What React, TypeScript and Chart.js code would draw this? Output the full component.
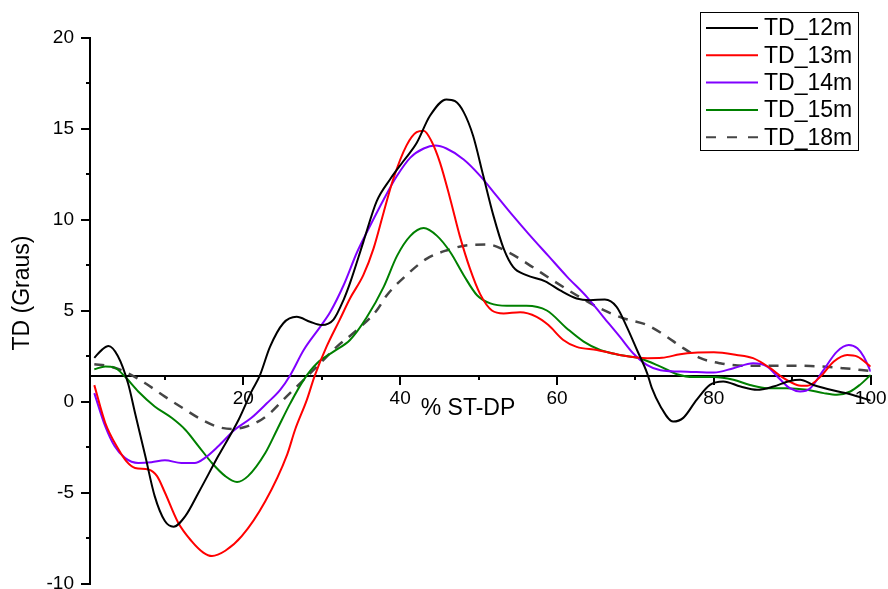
import React, { useEffect, useRef } from 'react';
import { Chart, registerables } from 'chart.js';

Chart.register(...registerables);

const FONT = "'Liberation Sans', Arial, Helvetica, sans-serif";

const SERIES_NAMES = ['TD_12m', 'TD_13m', 'TD_14m', 'TD_15m', 'TD_18m'];
const SERIES_COLORS = ['#000000', '#ff0000', '#8000ff', '#008000', '#454545'];

const X_TITLE = '% ST-DP';
const Y_TITLE = 'TD (Graus)';

const X_MIN = 0.45;
const X_MAX = 100;
const Y_MIN = -10;
const Y_MAX = 20;
const X_AXIS_CROSS_Y = 1.42;

const X_MAJOR_TICKS = [20, 40, 60, 80, 100];
const X_MINOR_TICKS = [10, 30, 50, 70, 90];
const Y_MAJOR_TICKS = [-10, -5, 0, 5, 10, 15, 20];
const Y_MINOR_TICKS = [-7.5, -2.5, 2.5, 7.5, 12.5, 17.5];

const TD12_X = [1, 2, 2.8, 4, 5.3, 6.2, 7.5, 8.7, 10, 11.1, 12.6, 14.3, 16.8, 19.4, 21.1, 22.1, 23.4, 25.1, 26.8, 28.5, 30, 31.5, 32.8, 33.6, 35.3, 37, 38.7, 40.4, 42.1, 43.8, 45.9, 47, 48.1, 49.3, 50.6, 51.9, 53.2, 54.4, 56.1, 58.5, 60.4, 62.5, 64.2, 66.1, 67.6, 68.9, 70.2, 71.5, 72.1, 73.2, 74.8, 76.1, 77.8, 79.5, 81.2, 83.4, 85.5, 87.6, 89.7, 91, 92.7, 95.3, 97.4, 100];
const TD12_Y = [2.4, 2.85, 3.05, 2.5, 1.0, -0.64, -3.0, -5.2, -6.57, -6.88, -6.3, -5.0, -3.0, -1.0, 0.6, 1.42, 3.0, 4.3, 4.65, 4.38, 4.2, 4.5, 5.6, 6.5, 8.76, 11.0, 12.2, 13.2, 14.2, 15.7, 16.6, 16.5, 15.9, 14.6, 12.4, 10.2, 8.4, 7.4, 6.94, 6.6, 6.1, 5.66, 5.57, 5.6, 5.2, 4.1, 2.83, 1.55, 0.73, -0.27, -1.1, -0.9, 0.09, 0.91, 1.1, 0.82, 0.64, 0.82, 1.13, 1.19, 0.91, 0.6, 0.4, 0.05];

const TD13_X = [1, 2.4, 4.1, 5.1, 6.2, 7.9, 9, 10, 11.7, 13.4, 14.9, 16, 17.7, 19.8, 22.8, 25.6, 26.6, 28.1, 29.1, 30.6, 32.3, 33.6, 35.3, 36.6, 37.9, 39.1, 40.8, 42.1, 43, 44, 45.1, 46.4, 47.6, 48.9, 50.2, 51.7, 53.2, 55.3, 57.4, 58.9, 60.8, 62.5, 65.1, 68, 71.5, 73.4, 75.7, 77.5, 80, 82.9, 85, 87.2, 88.9, 90.6, 91.9, 93.6, 95.3, 97, 98.3, 100];
const TD13_Y = [0.9, -1.18, -2.64, -3.29, -3.65, -3.74, -4.1, -5.0, -6.66, -7.67, -8.3, -8.49, -8.2, -7.4, -5.48, -2.9, -1.55, 0.09, 1.41, 3.0, 4.5, 5.66, 6.94, 8.4, 10.4, 12.2, 14.06, 14.8, 14.88, 14.3, 13.1, 11.1, 9.1, 7.3, 5.9, 5.0, 4.84, 4.9, 4.65, 4.2, 3.38, 3.0, 2.83, 2.56, 2.38, 2.4, 2.6, 2.68, 2.7, 2.56, 2.38, 1.83, 1.28, 0.91, 0.86, 1.37, 2.2, 2.56, 2.47, 1.92];

const TD14_X = [1, 2.4, 3.6, 4.9, 6.6, 8.3, 10, 12.1, 13.8, 15.1, 16.8, 18.9, 21, 23, 24.7, 26, 27.7, 29.8, 31.1, 32.8, 34.5, 36.2, 37.9, 39.6, 41.3, 43, 44.5, 45.9, 48.1, 50.2, 52.3, 54.4, 56.4, 58.9, 61.3, 63.8, 65.9, 68, 69.7, 71.5, 73.2, 76.6, 80, 82.5, 85, 86.8, 88.5, 89.7, 91, 92.3, 94, 95.7, 97.2, 98.3, 99.1, 100];
const TD14_Y = [0.46, -1.37, -2.46, -3.1, -3.38, -3.34, -3.23, -3.38, -3.38, -3.1, -2.46, -1.55, -0.91, -0.1, 0.64, 1.46, 2.83, 4.1, 4.93, 6.4, 8.2, 9.68, 11.1, 12.4, 13.4, 13.9, 14.06, 13.9, 13.3, 12.4, 11.3, 10.2, 9.2, 8.0, 6.85, 5.75, 4.65, 3.56, 2.65, 2.0, 1.72, 1.64, 1.59, 1.83, 2.1, 1.92, 1.19, 0.73, 0.55, 0.73, 1.74, 2.74, 3.1, 2.92, 2.47, 1.64];

const TD15_X = [1, 2.4, 3.6, 4.9, 6.6, 8.7, 10.9, 12.6, 14.3, 16, 17.7, 19.2, 20.6, 22.8, 24.3, 26, 27.7, 29.4, 31.5, 33.6, 35.7, 37.9, 39.6, 41.3, 43, 44.7, 46.4, 48.1, 49.8, 51.5, 53.6, 56.1, 58.7, 61.3, 63.4, 65.5, 68, 70.5, 73.2, 75.3, 77.4, 80, 82.5, 84.6, 86.8, 89.3, 91.9, 94, 95.7, 97.4, 98.6, 100];
const TD15_Y = [1.77, 1.92, 1.86, 1.37, 0.55, -0.27, -0.91, -1.55, -2.46, -3.38, -4.1, -4.42, -4.1, -2.83, -1.55, -0.09, 1.19, 2.1, 2.74, 3.38, 4.6, 6.3, 8.0, 9.1, 9.53, 9.1, 8.2, 6.94, 5.84, 5.39, 5.26, 5.26, 5.0, 4.0, 3.29, 2.83, 2.56, 2.38, 1.92, 1.5, 1.34, 1.34, 1.19, 0.91, 0.73, 0.73, 0.64, 0.46, 0.37, 0.55, 0.91, 1.46];

const TD18_X = [1, 2.8, 4.9, 7.5, 10, 12.6, 14.7, 16.8, 18.5, 20.2, 22.3, 23.4, 25.5, 27.7, 29.8, 31.9, 34.5, 37, 38.3, 40.8, 43.4, 45.9, 48.9, 51.2, 53.8, 56.3, 59.3, 62.5, 65.5, 68.5, 71.5, 74, 75.7, 78.3, 80.8, 83.8, 88, 92.3, 96.5, 100];
const TD18_Y = [2.05, 1.95, 1.64, 1.0, 0.27, -0.45, -1.0, -1.4, -1.51, -1.4, -1.0, -0.64, 0.27, 1.19, 2.1, 3.0, 3.93, 5.0, 5.84, 6.94, 7.85, 8.3, 8.6, 8.62, 8.2, 7.55, 6.7, 5.84, 5.11, 4.57, 4.2, 3.56, 3.05, 2.38, 2.1, 1.97, 1.97, 1.95, 1.83, 1.68];

const SERIES_X = [TD12_X, TD13_X, TD14_X, TD15_X, TD18_X];
const SERIES_Y = [TD12_Y, TD13_Y, TD14_Y, TD15_Y, TD18_Y];
const SERIES_DASH: number[][] = [[], [], [], [], [10, 8]];
const LEGEND_DASH: number[][] = [[], [], [], [], [10, 11]];

const zeroPad = (s: any) => {
  s.paddingLeft = 0;
  s.paddingRight = 0;
  s.paddingTop = 0;
  s.paddingBottom = 0;
};

const setTicks = (vals: number[]) => (s: any) => {
  s.ticks = vals.map((v) => ({ value: v }));
};

const overlayPlugin = {
  id: 'overlayText',
  afterDraw(chart: any) {
    const ctx = chart.ctx as CanvasRenderingContext2D;
    ctx.save();
    // axis titles
    ctx.fillStyle = '#000';
    ctx.font = `23px ${FONT}`;
    ctx.textAlign = 'center';
    ctx.textBaseline = 'middle';
    ctx.fillText(X_TITLE, 468, 409);
    ctx.save();
    ctx.translate(23, 293);
    ctx.rotate(-Math.PI / 2);
    ctx.fillText(Y_TITLE, 0, 0);
    ctx.restore();

    // legend box
    const bx = 700.5, by = 12.5, bw = 158, bh = 138;
    ctx.fillStyle = '#fff';
    ctx.fillRect(bx, by, bw, bh);
    ctx.strokeStyle = '#000';
    ctx.lineWidth = 1;
    ctx.setLineDash([]);
    ctx.strokeRect(bx, by, bw, bh);
    ctx.font = `23px ${FONT}`;
    ctx.textAlign = 'left';
    ctx.textBaseline = 'middle';
    chart.data.datasets.forEach((ds: any, i: number) => {
      const y = 28 + i * 27.3;
      ctx.beginPath();
      ctx.strokeStyle = ds.borderColor;
      ctx.lineWidth = 2;
      ctx.setLineDash(LEGEND_DASH[i]);
      ctx.moveTo(706, y);
      ctx.lineTo(758, y);
      ctx.stroke();
      ctx.setLineDash([]);
      ctx.fillStyle = '#000';
      ctx.fillText(ds.label, 764, y + 1);
    });
    ctx.restore();
  },
};

export default function App() {
  const canvasRef = useRef<HTMLCanvasElement | null>(null);

  useEffect(() => {
    const canvas = canvasRef.current;
    if (!canvas) return;
    const datasets = SERIES_NAMES.map((name, i) => ({
      label: name,
      data: SERIES_X[i].map((x, j) => ({ x, y: SERIES_Y[i][j] })),
      borderColor: SERIES_COLORS[i],
      backgroundColor: SERIES_COLORS[i],
      borderWidth: i === 4 ? 2.5 : 2,
      borderDash: SERIES_DASH[i],
      pointRadius: 0,
      fill: false,
      cubicInterpolationMode: 'monotone' as const,
    }));

    const tickFont = { family: FONT, size: 19 };
    const chart = new Chart(canvas, {
      type: 'line',
      data: { datasets },
      plugins: [overlayPlugin],
      options: {
        responsive: false,
        animation: false,
        devicePixelRatio: 1,
        layout: { padding: { left: 0, top: 37.5, right: 17.3, bottom: 5.5 } },
        plugins: {
          legend: { display: false },
          tooltip: { enabled: false },
          title: { display: false },
        },
        scales: {
          x: {
            type: 'linear',
            axis: 'x',
            min: X_MIN,
            max: X_MAX,
            position: { y: X_AXIS_CROSS_Y } as any,
            afterBuildTicks: setTicks(X_MAJOR_TICKS),
            afterFit: (s: any) => { s.height = 0; zeroPad(s); },
            grid: { drawOnChartArea: false, drawTicks: true, tickLength: 8, color: '#000', lineWidth: 2 },
            border: { display: true, color: '#000', width: 2 },
            ticks: { autoSkip: false, maxRotation: 0, padding: 4, color: '#000', font: tickFont },
          },
          x2: {
            type: 'linear',
            axis: 'x',
            min: X_MIN,
            max: X_MAX,
            position: { y: X_AXIS_CROSS_Y } as any,
            afterBuildTicks: setTicks(X_MINOR_TICKS),
            afterFit: (s: any) => { s.height = 0; zeroPad(s); },
            grid: { drawOnChartArea: false, drawTicks: true, tickLength: 4, color: '#000', lineWidth: 2 },
            border: { display: false },
            ticks: { display: false, autoSkip: false },
          },
          y: {
            type: 'linear',
            axis: 'y',
            min: Y_MIN,
            max: Y_MAX,
            position: 'left',
            afterBuildTicks: setTicks(Y_MAJOR_TICKS),
            afterFit: (s: any) => { s.width = 90; zeroPad(s); },
            grid: { drawOnChartArea: false, drawTicks: true, tickLength: 9, color: '#000', lineWidth: 2 },
            border: { display: true, color: '#000', width: 2 },
            ticks: { autoSkip: false, padding: 7, color: '#000', font: tickFont },
          },
          y2: {
            type: 'linear',
            axis: 'y',
            min: Y_MIN,
            max: Y_MAX,
            position: { x: X_MIN } as any,
            afterBuildTicks: setTicks(Y_MINOR_TICKS),
            afterFit: (s: any) => { s.width = 0; zeroPad(s); },
            grid: { drawOnChartArea: false, drawTicks: true, tickLength: 4, color: '#000', lineWidth: 2 },
            border: { display: false },
            ticks: { display: false, autoSkip: false },
          },
        },
      } as any,
    });
    return () => chart.destroy();
  }, []);

  return (
    <div style={{ position: 'absolute', left: 0, top: 0, width: 888, height: 589, background: '#fff' }}>
      <canvas ref={canvasRef} width={888} height={589} style={{ display: 'block' }} />
    </div>
  );
}
